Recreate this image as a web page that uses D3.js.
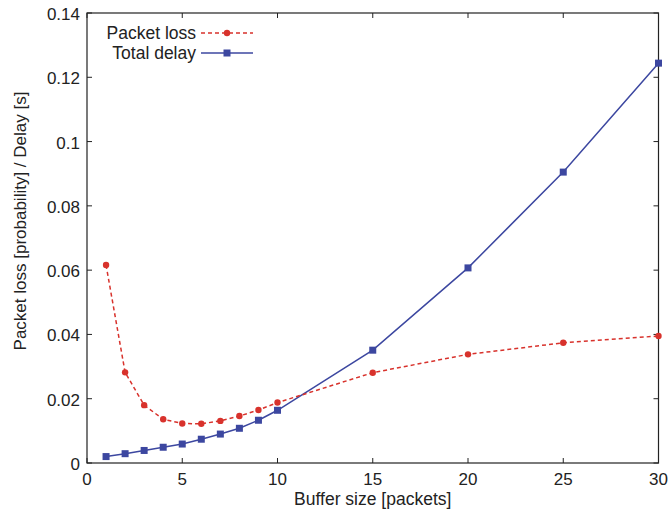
<!DOCTYPE html>
<html><head><meta charset="utf-8">
<script src="https://cdn.jsdelivr.net/npm/d3@7"></script>
<style>body{margin:0;background:#fff}svg{display:block}text{font-family:"Liberation Sans",Arial,sans-serif;fill:#222}</style>
</head><body><svg id="c" width="669" height="511"></svg>
<script>
const bufferSizes = [1,2,3,4,5,6,7,8,9,10,15,20,25,30];
const packetLoss = [0.0616,0.0282,0.0180,0.0136,0.0123,0.0122,0.0131,0.0146,0.0165,0.0188,0.0281,0.0338,0.0374,0.0395];
const totalDelay = [0.0020,0.0029,0.0039,0.0049,0.0059,0.0074,0.0090,0.0108,0.0133,0.0164,0.0351,0.0607,0.0905,0.1244];
const xTicks = [0,5,10,15,20,25,30];
const yTicks = [0,0.02,0.04,0.06,0.08,0.1,0.12,0.14];
const yTickLabels = ["0","0.02","0.04","0.06","0.08","0.1","0.12","0.14"];

const svg = d3.select("#c");
const L=87,R=658.5,T=13,B=463;
const x = d3.scaleLinear().domain([0,30]).range([L,R]);
const y = d3.scaleLinear().domain([0,0.14]).range([B,T]);
const red="#d8322c", blue="#3c47a0";
const fs=17, fsT=17.5, tl=5;

const g = svg.append("g");
xTicks.forEach(v=>{
  g.append("line").attr("x1",x(v)).attr("x2",x(v)).attr("y1",B).attr("y2",B-tl).attr("stroke","#222");
  g.append("line").attr("x1",x(v)).attr("x2",x(v)).attr("y1",T).attr("y2",T+tl).attr("stroke","#222");
  g.append("text").attr("x",x(v)).attr("y",B+22).attr("text-anchor","middle").attr("font-size",fs).text(v);
});
yTicks.forEach((v,i)=>{
  g.append("line").attr("x1",L).attr("x2",L+tl).attr("y1",y(v)).attr("y2",y(v)).attr("stroke","#222");
  g.append("line").attr("x1",R).attr("x2",R-tl).attr("y1",y(v)).attr("y2",y(v)).attr("stroke","#222");
  g.append("text").attr("x",L-7).attr("y",y(v)+7).attr("text-anchor","end").attr("font-size",fs).text(yTickLabels[i]);
});
g.append("rect").attr("x",L).attr("y",T).attr("width",R-L).attr("height",B-T).attr("fill","none").attr("stroke","#222").attr("stroke-width",1.2);

svg.append("text").attr("x",(L+R)/2).attr("y",505).attr("text-anchor","middle").attr("font-size",fsT).text("Buffer size [packets]");
svg.append("text").attr("transform","translate(26,221) rotate(-90)").attr("text-anchor","middle").attr("font-size",17).text("Packet loss [probability] / Delay [s]");

const line = d3.line().x((d,i)=>x(bufferSizes[i])).y(d=>y(d));
svg.append("path").attr("d",line(totalDelay)).attr("fill","none").attr("stroke",blue).attr("stroke-width",1.5);
svg.append("path").attr("d",line(packetLoss)).attr("fill","none").attr("stroke",red).attr("stroke-width",1.5).attr("stroke-dasharray","4,3");
svg.selectAll("rect.sq").data(totalDelay).enter().append("rect").attr("class","sq")
  .attr("x",(d,i)=>x(bufferSizes[i])-3.5).attr("y",d=>y(d)-3.5).attr("width",7).attr("height",7).attr("fill",blue);
svg.selectAll("circle.pt").data(packetLoss).enter().append("circle").attr("class","pt")
  .attr("cx",(d,i)=>x(bufferSizes[i])).attr("cy",d=>y(d)).attr("r",3.2).attr("fill",red);

const lg = svg.append("g");
lg.append("text").attr("x",196).attr("y",39).attr("text-anchor","end").attr("font-size",fsT).text("Packet loss");
lg.append("line").attr("x1",201).attr("x2",253).attr("y1",33).attr("y2",33).attr("stroke",red).attr("stroke-width",1.5).attr("stroke-dasharray","4,3");
lg.append("circle").attr("cx",227).attr("cy",33).attr("r",3.2).attr("fill",red);
lg.append("text").attr("x",196).attr("y",59).attr("text-anchor","end").attr("font-size",fsT).text("Total delay");
lg.append("line").attr("x1",201).attr("x2",253).attr("y1",53).attr("y2",53).attr("stroke",blue).attr("stroke-width",1.5);
lg.append("rect").attr("x",223.5).attr("y",49.5).attr("width",7).attr("height",7).attr("fill",blue);
</script></body></html>
